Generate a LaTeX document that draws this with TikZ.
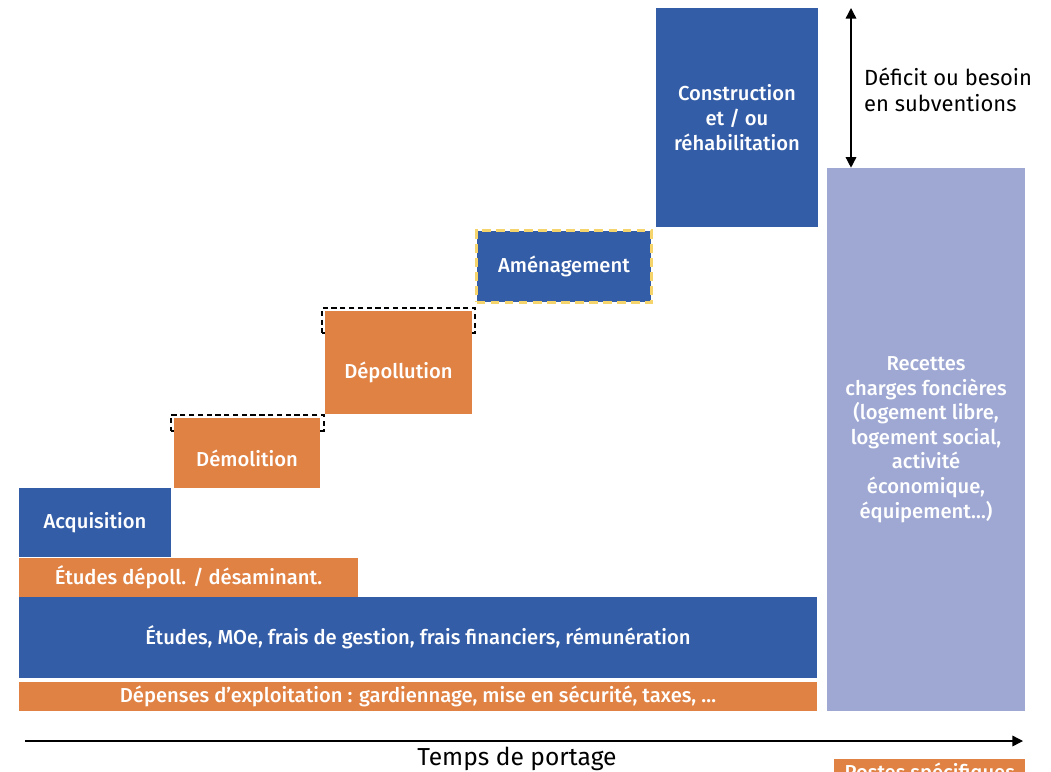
\documentclass[tikz,border=0pt]{standalone}
\usepackage{fontspec}
\setmainfont{Fira Sans}[BoldFont={Fira Sans Medium}]
\usepackage{tikz}
\usetikzlibrary{positioning,arrows.meta}
\definecolor{bleu}{HTML}{345DA7}
\definecolor{orange}{HTML}{E08244}
\definecolor{lilas}{HTML}{9EA8D3}
\definecolor{jaune}{HTML}{F5D46C}

\begin{document}
\begin{tikzpicture}[x=0.02cm,y=-0.02cm, every node/.style={font=\fontsize{11.5}{14}\selectfont\bfseries},
  blk/.style={fill=bleu, text=white, inner sep=0pt, align=center},
  org/.style={fill=orange, text=white, inner sep=0pt, align=center},
  rec/.style={fill=lilas, text=white, inner sep=0pt, align=center},
  lbl/.style={text=white, inner sep=0pt},
  ghost/.style={draw=black, thick, dash pattern=on 3pt off 2pt, inner sep=0pt},
  axe/.style={draw=black!70, thick, -{Triangle[length=6pt,width=6pt]}, black},
]
  \useasboundingbox (0,0) rectangle (1051,771);

  % Socle : frais communs
  \node[blk, minimum width=15.96cm, minimum height=1.62cm] (etudes) at (418,637.5)
    {\'Etudes, MOe, frais de gestion, frais financiers, r\'emun\'eration};
  \node[org, minimum width=15.96cm, minimum height=.58cm] (depenses) at (418,696.5)
    {D\'epenses d'exploitation : gardiennage, mise en s\'ecurit\'e, taxes, \dots};

  % Escalier des postes
  \node[org, minimum width=6.78cm, minimum height=.78cm] (dep) at (188.5,577)
    {\'Etudes d\'epoll. / d\'esaminant.};
  \node[blk, minimum width=3.04cm, minimum height=1.38cm] (acq) at (95,522.5) {Acquisition};
  \node[ghost, minimum width=3.06cm, minimum height=.32cm] (demg) at (247.5,423) {};
  \node[org, minimum width=2.92cm, minimum height=1.4cm,
        label={[lbl, yshift=-.1cm]center:D\'emolition}] (dem) at (247,453) {};
  \node[ghost, minimum width=3.06cm, minimum height=.5cm] (depg) at (398.5,320.5) {};
  \node[org, minimum width=2.94cm, minimum height=2.06cm,
        label={[lbl, yshift=-.2cm]center:D\'epollution}] (depol) at (398.5,362.5) {};
  \node[blk, draw=jaune, line width=1.5pt, dash pattern=on 5pt off 3pt, minimum width=3.5cm,
        minimum height=1.44cm] (amen) at (564,266.5) {Am\'enagement};
  \node[blk, minimum width=3.24cm, minimum height=4.38cm] (cons) at (737,117.5)
    {Construction\\et / ou\\r\'ehabilitation};

  % Recettes
  \node[rec, minimum width=3.96cm, minimum height=10.86cm] (rec) at (926,439.5)
    {Recettes\\charges fonci\`eres\\(logement libre,\\logement social,\\activit\'e\\\'economique,\\\'equipement\dots)};
  \node[org, anchor=north west, minimum width=3.82cm, minimum height=.56cm] (postes) at (834,759)
    {Postes sp\'ecifiques};

  % Deficit
  \coordinate (dtop) at (851,8);
  \draw[axe, {Triangle[length=6pt,width=6pt]}-{Triangle[length=6pt,width=6pt]}] (dtop) -- (dtop |- rec.north);
  \node[anchor=west, font=\fontsize{12.5}{14.5}\selectfont, align=left] (deficit) at (858,90)
    {D\'eficit ou besoin\\en subventions};

  % Temps
  \coordinate (t0) at (25,741);
  \coordinate (t1) at (1023,741);
  \draw[axe] (t0) -- (t1);
  \node[font=\fontsize{14}{16}\selectfont] (temps) at (517,759) {Temps de portage};
\end{tikzpicture}
\end{document}
